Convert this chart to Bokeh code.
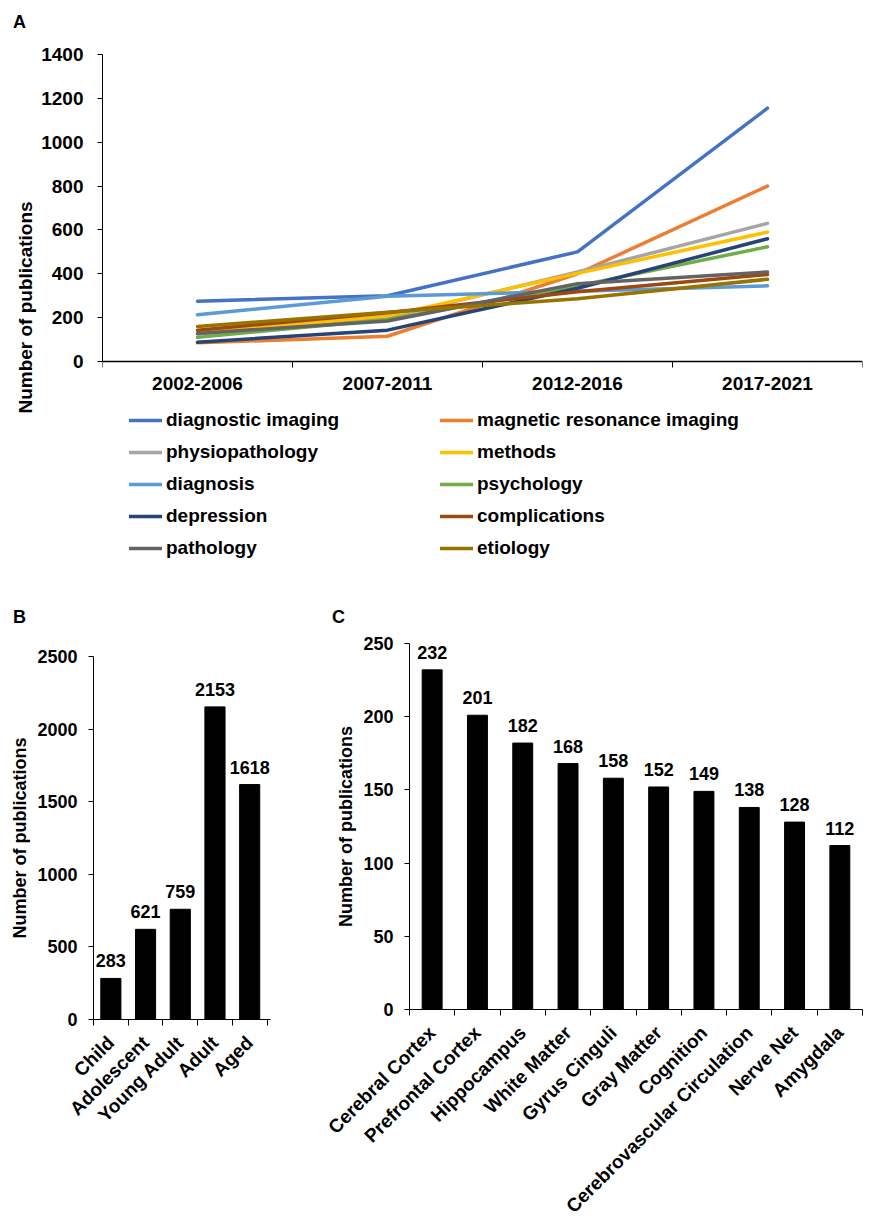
import math
from bokeh.plotting import figure
from bokeh.models import (Range1d, FixedTicker, SingleIntervalTicker, Legend, LegendItem,
                          LabelSet, ColumnDataSource, Div)
from bokeh.layouts import column, row
from bokeh.embed import file_html
from bokeh.resources import INLINE
from bokeh.core.properties import value

FONT = "Liberation Sans"

# ---------------- data ----------------
periods = ["2002-2006", "2007-2011", "2012-2016", "2017-2021"]
series_names = ["diagnostic imaging", "magnetic resonance imaging", "physiopathology", "methods",
                "diagnosis", "psychology", "depression", "complications", "pathology", "etiology"]
diagnostic_imaging = [275, 300, 500, 1155]
magnetic_resonance_imaging = [85, 115, 400, 800]
physiopathology = [125, 200, 408, 630]
methods = [130, 208, 402, 590]
diagnosis = [213, 298, 320, 345]
psychology = [110, 192, 345, 523]
depression = [88, 143, 334, 560]
complications = [143, 222, 318, 397]
pathology = [128, 185, 355, 408]
etiology = [160, 225, 286, 375]
series_values = [diagnostic_imaging, magnetic_resonance_imaging, physiopathology, methods,
                 diagnosis, psychology, depression, complications, pathology, etiology]
series_colors = ["#4472C4", "#ED7D31", "#A5A5A5", "#FFC000", "#5B9BD5",
                 "#70AD47", "#264478", "#9E480E", "#636363", "#997300"]

age_groups = ["Child", "Adolescent", "Young Adult", "Adult", "Aged"]
age_counts = [283, 621, 759, 2153, 1618]

regions = ["Cerebral Cortex", "Prefrontal Cortex", "Hippocampus", "White Matter", "Gyrus Cinguli",
           "Gray Matter", "Cognition", "Cerebrovascular Circulation", "Nerve Net", "Amygdala"]
region_counts = [232, 201, 182, 168, 158, 152, 149, 138, 128, 112]

Y_MAX_A = 1400


def base_style(p):
    p.grid.visible = False
    p.outline_line_color = None
    p.background_fill_color = "white"
    p.border_fill_color = "white"
    for ax in (p.xaxis[0], p.yaxis[0]):
        ax.axis_line_color = "black"
        ax.major_tick_line_color = "black"
        ax.minor_tick_line_color = "black"
        ax.major_label_text_font = FONT
        ax.major_label_text_font_style = "bold"
        ax.major_label_text_color = "black"
        ax.axis_label_text_font = FONT
        ax.axis_label_text_font_style = "bold"
        ax.axis_label_text_color = "black"


def cat_xaxis(p, cats, tick_font, standoff, orient=None):
    n = len(cats)
    centers = [i + 0.5 for i in range(n)]
    bounds = [float(i) for i in range(n + 1)]
    ax = p.xaxis[0]
    ax.ticker = FixedTicker(ticks=centers, minor_ticks=bounds)
    ax.major_label_overrides = {c: lab for c, lab in zip(centers, cats)}
    ax.major_tick_out = 0
    ax.major_tick_in = 0
    ax.minor_tick_out = 6
    ax.minor_tick_in = 0
    ax.major_label_standoff = standoff
    ax.major_label_text_font_size = tick_font
    if orient is not None:
        ax.major_label_orientation = orient
    return centers


def y_axis(p, interval, label, tick_font, label_font, lstand, astand):
    ax = p.yaxis[0]
    ax.ticker = SingleIntervalTicker(interval=interval)
    ax.minor_tick_out = 0
    ax.minor_tick_in = 0
    ax.major_tick_out = 5
    ax.major_tick_in = 0
    ax.major_label_standoff = lstand
    ax.major_label_text_font_size = tick_font
    ax.axis_label = label
    ax.axis_label_text_font_size = label_font
    ax.axis_label_standoff = astand


def letter(text, w, h, pad_top, pad_left):
    return Div(text=(f'<div style="font-family:\'Liberation Sans\';font-weight:bold;font-size:18px;'
                     f'line-height:normal;color:#000;padding-top:{pad_top}px;padding-left:{pad_left}px;">'
                     f'{text}</div>'),
               width=w, height=h, margin=0)


# ---------------- Panel A ----------------
# frame extends below the value axis so the legend can sit inside it
A_H, A_TOP, A_BOT, A_AXIS_PX = 560, 16, 38, 307
frame_h = A_H - A_TOP - A_BOT
y_start = Y_MAX_A - Y_MAX_A * frame_h / A_AXIS_PX
pA = figure(width=890, height=A_H, x_range=Range1d(0, len(periods)), y_range=Range1d(y_start, Y_MAX_A),
            output_backend="svg", toolbar_location=None,
            min_border_left=102, min_border_right=28, min_border_top=A_TOP, min_border_bottom=A_BOT)
base_style(pA)
xsA = cat_xaxis(pA, periods, "19px", 9)
pA.xaxis[0].fixed_location = 0
pA.xaxis[0].axis_line_width = 1.5
y_axis(pA, 200, "Number of publications", "19px", "19px", 14, 2)
pA.yaxis[0].bounds = (0, Y_MAX_A)

itemsA = []
for name, vals, col in zip(series_names, series_values, series_colors):
    r = pA.line(xsA, vals, line_color=col, line_width=3.5, line_cap="round", line_join="round")
    itemsA.append(LegendItem(label=name, renderers=[r]))


def mk_legend(items, loc):
    return Legend(items=items, location=loc, orientation="vertical",
                  label_text_font=FONT, label_text_font_style="bold", label_text_font_size="19px",
                  label_text_color="black", glyph_width=33, glyph_height=22, label_height=22,
                  spacing=10, padding=0, margin=0, label_standoff=4,
                  background_fill_alpha=0, border_line_alpha=0)


pA.add_layout(mk_legend(itemsA[0::2], (27, 1)))
pA.add_layout(mk_legend(itemsA[1::2], (338, 1)))

# ---------------- Panel B ----------------
pB = figure(width=298, height=599, x_range=Range1d(0, len(age_groups) + 0.1), y_range=Range1d(0, 2500),
            output_backend="svg", toolbar_location=None,
            min_border_left=93, min_border_right=28, min_border_top=28, min_border_bottom=208)
base_style(pB)
xsB = cat_xaxis(pB, age_groups, "19px", 14, math.pi / 4)
y_axis(pB, 500, "Number of publications", "18px", "18px", 11, 4)
srcB = ColumnDataSource(dict(x=xsB, top=age_counts, lab=[str(v) for v in age_counts]))
pB.vbar(x="x", top="top", width=0.58, source=srcB, fill_color="black", line_color="black")
pB.add_layout(LabelSet(x="x", y="top", text="lab", source=srcB, text_align="center",
                       text_baseline="alphabetic", y_offset=11, text_font=value(FONT),
                       text_font_style="bold", text_font_size="18px", text_color="black"))

# ---------------- Panel C ----------------
pC = figure(width=592, height=599, x_range=Range1d(0, len(regions)), y_range=Range1d(0, 250),
            output_backend="svg", toolbar_location=None,
            min_border_left=111, min_border_right=28, min_border_top=15, min_border_bottom=209)
base_style(pC)
xsC = cat_xaxis(pC, regions, "19px", 14, math.pi / 4)
y_axis(pC, 50, "Number of publications", "18px", "18px", 11, 4)
srcC = ColumnDataSource(dict(x=xsC, top=region_counts, lab=[str(v) for v in region_counts]))
pC.vbar(x="x", top="top", width=0.44, source=srcC, fill_color="black", line_color="black")
pC.add_layout(LabelSet(x="x", y="top", text="lab", source=srcC, text_align="center",
                       text_baseline="alphabetic", y_offset=11, text_font=value(FONT),
                       text_font_style="bold", text_font_size="18px", text_color="black"))

layout = column(
    letter("A", 890, 38, 12, 13),
    pA,
    row(column(letter("B", 298, 30, 9, 13), pB, spacing=0),
        column(letter("C", 592, 30, 9, 34), pC, spacing=0), spacing=0),
    spacing=0)
open("out.html", "w").write(file_html(layout, INLINE))
